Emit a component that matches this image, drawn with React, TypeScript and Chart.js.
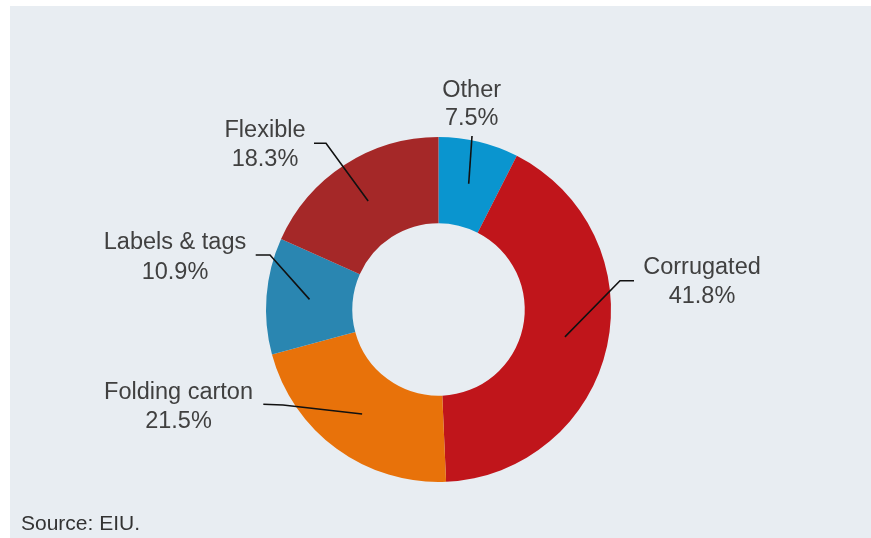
import React, { useEffect, useRef } from "react";
import { Chart, registerables } from "chart.js";

Chart.register(...registerables);

const categories = ["Other", "Corrugated", "Folding carton", "Labels & tags", "Flexible"];
const shares = [7.5, 41.8, 21.5, 10.9, 18.3];
const colors = ["#0a95cf", "#c0151b", "#e8720a", "#2a86b1", "#a52828"];
const sourceText = "Source: EIU.";

// Label placement relative to the doughnut centre (elbow, tail end, text centre, baselines)
const labelLayout = [
  { elbow: [33.5, -173.5], tail: [33.5, -173.5], text: [33.2, -212.8, -184.5] },
  { elbow: [181.5, -28.8], tail: [195.5, -28.8], text: [263.5, -35.2, -6.2] },
  { elbow: [-155.5, 95.5], tail: [-175.2, 94.8], text: [-260, 89.8, 118.8] },
  { elbow: [-168.5, -54.5], tail: [-182.8, -54.5], text: [-263.5, -60.2, -30.5] },
  { elbow: [-112.5, -166.2], tail: [-124.5, -166.2], text: [-173.5, -172.2, -143.5] },
];

const FONT = '"Liberation Sans", Arial, sans-serif';

const labelPlugin = {
  id: "leaderLabels",
  afterDatasetsDraw(chart: any) {
    const ctx = chart.ctx;
    const meta = chart.getDatasetMeta(0);
    ctx.save();
    meta.data.forEach((arc: any, i: number) => {
      const p = arc.getProps(["x", "y", "startAngle", "endAngle", "innerRadius", "outerRadius"], true);
      const mid = (p.startAngle + p.endAngle) / 2;
      const r = (p.innerRadius + p.outerRadius) / 2;
      const sx = p.x + Math.cos(mid) * r;
      const sy = p.y + Math.sin(mid) * r;
      const L = labelLayout[i];
      ctx.beginPath();
      ctx.strokeStyle = "#111111";
      ctx.lineWidth = 1.6;
      ctx.moveTo(sx, sy);
      ctx.lineTo(p.x + L.elbow[0], p.y + L.elbow[1]);
      ctx.lineTo(p.x + L.tail[0], p.y + L.tail[1]);
      ctx.stroke();
      ctx.fillStyle = "#404040";
      ctx.font = `23.5px ${FONT}`;
      ctx.textAlign = "center";
      ctx.textBaseline = "alphabetic";
      ctx.fillText(categories[i], p.x + L.text[0], p.y + L.text[1]);
      ctx.fillText(shares[i].toFixed(1) + "%", p.x + L.text[0], p.y + L.text[2]);
    });
    ctx.fillStyle = "#333333";
    ctx.font = `21px ${FONT}`;
    ctx.textAlign = "left";
    ctx.fillText(sourceText, 21, 529.5);
    ctx.restore();
  },
};

export default function App() {
  const ref = useRef<HTMLCanvasElement | null>(null);
  useEffect(() => {
    document.body.style.margin = "0";
    const chart = new Chart(ref.current as HTMLCanvasElement, {
      type: "doughnut",
      data: {
        labels: categories,
        datasets: [
          {
            data: shares,
            backgroundColor: colors,
            borderWidth: 0,
          },
        ],
      },
      options: {
        animation: false,
        responsive: false,
        devicePixelRatio: 1,
        cutout: "50%",
        layout: { padding: { top: 137, bottom: 56, left: 6, right: 0 } },
        plugins: {
          legend: { display: false },
          tooltip: { enabled: false },
        },
      },
      plugins: [labelPlugin],
    });
    return () => chart.destroy();
  }, []);
  return (
    <div style={{ position: "absolute", left: 0, top: 0, width: 871, height: 538, background: "#ffffff", overflow: "hidden" }}>
      <div style={{ position: "absolute", left: 10, top: 6, right: 0, bottom: 0, background: "#e8edf2" }} />
      <canvas ref={ref} width={871} height={538} style={{ position: "absolute", left: 0, top: 0, width: 871, height: 538 }} />
    </div>
  );
}
